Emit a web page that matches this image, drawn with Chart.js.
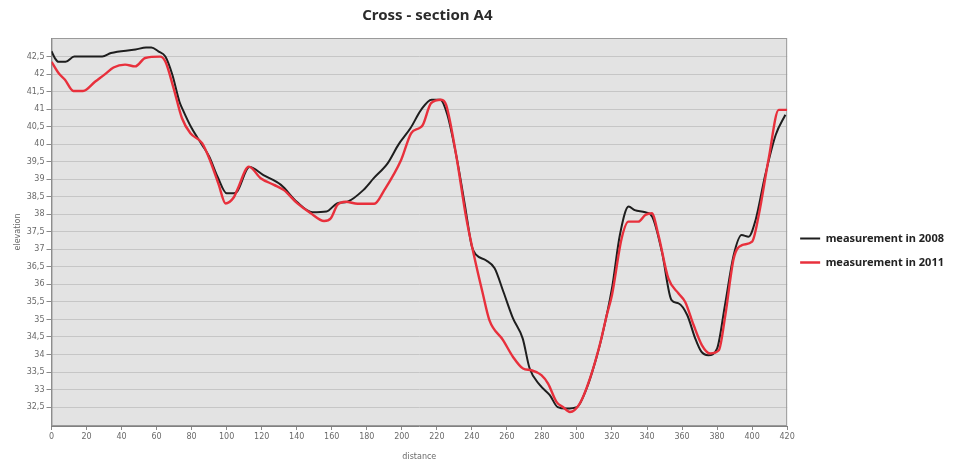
<!DOCTYPE html>
<html>
<head>
<meta charset="utf-8">
<title>Cross - section A4</title>
<script src="https://cdn.jsdelivr.net/npm/chart.js@4.4.1/dist/chart.umd.min.js"></script>
<style>
  html, body { margin: 0; padding: 0; background: #ffffff; }
  #wrap { position: relative; width: 960px; height: 463px; }
</style>
</head>
<body>
<div id="wrap"><canvas id="profile"></canvas></div>
<script>
/* --------------- Survey data --------------------- */
const titleText = "Cross - section A4";

const distance2008 = [0, 2, 4, 8, 13, 29, 34, 48, 54, 57, 61, 65, 69, 73, 75, 80, 86, 90, 95, 100,
  104, 106, 113, 121, 131, 140, 149, 157, 163, 169, 178, 184, 192, 198, 205, 211, 217, 222, 226, 231,
  236, 240, 242.5, 248, 253, 258, 263.5, 269, 273, 279, 284.5, 289, 294, 300, 305.5, 311, 314, 320,
  324.5, 329.5, 333, 339, 343, 348.5, 354, 358, 363, 367.5, 371, 375, 380, 384.5, 389.5, 394, 398,
  402, 407.5, 413.5, 419];
const elevation2008 = [42.65, 42.45, 42.35, 42.35, 42.5, 42.5, 42.6, 42.7, 42.76, 42.76, 42.65, 42.5,
  41.98, 41.22, 40.98, 40.46, 39.98, 39.65, 39.05, 38.6, 38.6, 38.65, 39.35, 39.12, 38.84, 38.36,
  38.06, 38.08, 38.31, 38.36, 38.69, 39.03, 39.46, 39.98, 40.46, 40.98, 41.27, 41.27, 40.84, 39.7,
  38.27, 37.08, 36.84, 36.69, 36.46, 35.79, 35.03, 34.46, 33.6, 33.12, 32.84, 32.5, 32.46, 32.5,
  33.03, 33.89, 34.46, 35.89, 37.41, 38.22, 38.12, 38.06, 37.93, 36.93, 35.55, 35.46, 35.12, 34.46,
  34.08, 33.98, 34.17, 35.41, 36.84, 37.41, 37.36, 37.84, 39.12, 40.27, 40.84];

const distance2011 = [0, 4, 7.7, 12.5, 18, 25, 30.6, 35.4, 42, 47.8, 53.5, 62, 65, 69.7, 74.5, 79.3,
  86, 90.8, 95.5, 99.4, 104, 106, 112.7, 119.4, 127, 132.7, 140.4, 148, 155.6, 159.5, 163.3, 168,
  174.8, 184.3, 190, 199.6, 205.3, 210, 212, 216.7, 222.5, 225.3, 231, 236.8, 241.6, 246, 250, 257.8,
  263.5, 269.2, 274, 279.7, 283.5, 288.3, 292, 296, 301.6, 307.4, 313, 317, 320, 325.5, 329.4, 335,
  339, 342.7, 346.5, 352.2, 358, 361.8, 366.6, 371.3, 376, 381, 384.7, 389.5, 394.2, 400, 403.8,
  409.5, 415.2, 420];
const elevation2011 = [42.35, 42.03, 41.84, 41.52, 41.52, 41.79, 42.0, 42.19, 42.27, 42.22, 42.46,
  42.5, 42.36, 41.6, 40.74, 40.31, 40.03, 39.5, 38.84, 38.31, 38.48, 38.69, 39.36, 39.03, 38.84,
  38.69, 38.31, 38.03, 37.81, 37.89, 38.27, 38.36, 38.3, 38.3, 38.69, 39.55, 40.31, 40.46, 40.55,
  41.17, 41.27, 41.12, 39.7, 37.89, 36.74, 35.79, 34.98, 34.41, 33.93, 33.6, 33.55, 33.41, 33.17,
  32.65, 32.5, 32.36, 32.6, 33.31, 34.27, 35.12, 35.7, 37.31, 37.79, 37.79, 37.98, 38.03, 37.41,
  36.17, 35.74, 35.5, 34.84, 34.27, 34.03, 34.12, 35.12, 36.74, 37.12, 37.22, 37.98, 39.6, 40.98,
  40.98];

const elevationTicks = [32.5, 33, 33.5, 34, 34.5, 35, 35.5, 36, 36.5, 37, 37.5, 38, 38.5, 39, 39.5,
  40, 40.5, 41, 41.5, 42, 42.5];

const toPoints = (xs, ys) => xs.map((x, i) => ({ x: x, y: ys[i] }));

/* --------------- Plot frame, background and title --------------------- */
const plotFrame = {
  id: "plotFrame",
  beforeDraw(chart) {
    const { ctx, chartArea: a } = chart;
    ctx.save();
    ctx.fillStyle = "#e3e3e3";
    ctx.fillRect(a.left, a.top, a.right - a.left, a.bottom - a.top);
    ctx.restore();
  },
  beforeDatasetsDraw(chart) {
    const { ctx, chartArea: a } = chart;
    ctx.save();
    ctx.strokeStyle = "#9a9a9a";
    ctx.lineWidth = 1;
    ctx.strokeRect(a.left + 0.5, a.top + 0.5, a.right - a.left - 1, a.bottom - a.top - 1);
    ctx.restore();
  },
  afterDraw(chart) {
    const { ctx, chartArea: a } = chart;
    ctx.save();
    ctx.font = "bold 15px 'Noto Sans', sans-serif";
    ctx.fillStyle = "#2b2b2b";
    ctx.textAlign = "center";
    ctx.textBaseline = "middle";
    ctx.fillText(titleText, (a.left + a.right) / 2 + 8, 16);
    ctx.restore();
  },
};

const tickFont = { family: "'DejaVu Sans', sans-serif", size: 8 };

new Chart(document.getElementById("profile"), {
  type: "line",
  plugins: [plotFrame],
  data: {
    datasets: [
      {
        label: "measurement in 2008",
        data: toPoints(distance2008, elevation2008),
        borderColor: "#1e1e1e",
        backgroundColor: "#1e1e1e",
        borderWidth: 2,
        order: 1,
      },
      {
        label: "measurement in 2011",
        data: toPoints(distance2011, elevation2011),
        borderColor: "#e8303c",
        backgroundColor: "#e8303c",
        borderWidth: 2.4,
        order: 0,
      },
    ],
  },
  options: {
    responsive: true,
    maintainAspectRatio: false,
    animation: false,
    layout: { padding: { top: 38, right: 6, bottom: 0, left: 0 } },
    elements: {
      point: { radius: 0, hoverRadius: 0 },
      line: { tension: 0.35, cubicInterpolationMode: "monotone" },
    },
    scales: {
      x: {
        type: "linear",
        min: 0,
        max: 420,
        afterFit: (s) => { s.height = 37; },
        ticks: { stepSize: 20, color: "#6a6a6a", font: tickFont, padding: 2, maxRotation: 0 },
        grid: { drawOnChartArea: false, drawTicks: true, tickLength: 4, color: "#8a8a8a" },
        border: { color: "#808080" },
        title: { display: true, text: "distance", color: "#6a6a6a", font: tickFont, padding: { top: 1, bottom: 1 } },
      },
      y: {
        type: "linear",
        min: 31.96,
        max: 43.03,
        afterFit: (s) => { s.width = 51.5; },
        afterBuildTicks: (s) => { s.ticks = elevationTicks.map((v) => ({ value: v })); },
        ticks: {
          color: "#6a6a6a",
          font: tickFont,
          padding: 2,
          callback: (v) => String(v).replace(".", ","),
        },
        grid: { color: "#c6c6c6", tickColor: "#8a8a8a", tickLength: 5 },
        border: { color: "#808080" },
        title: { display: true, text: "elevation", color: "#6a6a6a", font: tickFont, padding: { top: 13, bottom: 13 } },
      },
    },
    plugins: {
      title: { display: false },
      tooltip: { enabled: false },
      legend: {
        position: "right",
        labels: {
          usePointStyle: true,
          pointStyle: "line",
          pointStyleWidth: 20,
          padding: 13,
          color: "#222222",
          font: { family: "'Noto Sans', sans-serif", size: 11, weight: "bold" },
          sort: (a, b) => a.datasetIndex - b.datasetIndex,
        },
      },
    },
  },
});
</script>
</body>
</html>
